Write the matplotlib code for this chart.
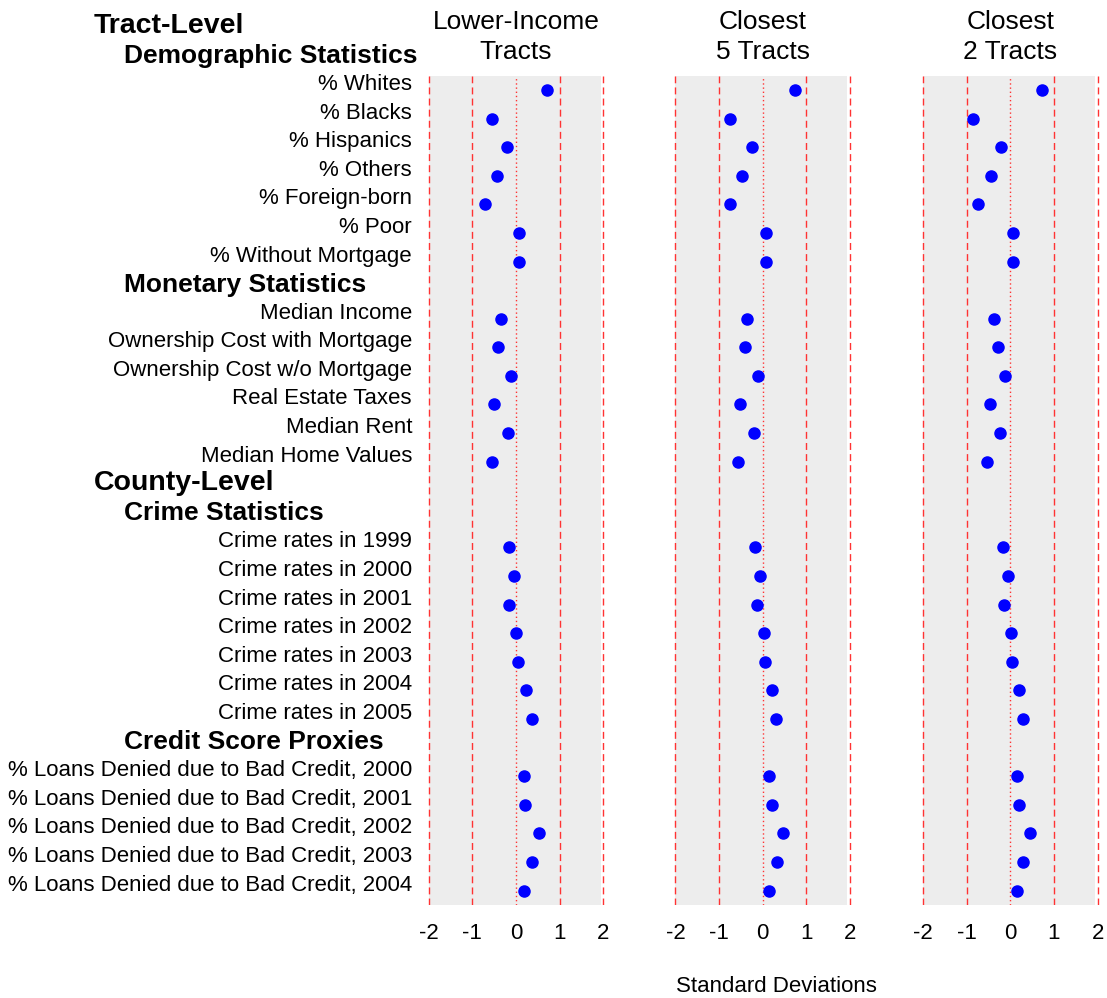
import matplotlib
matplotlib.use("Agg")
import matplotlib.pyplot as plt
import matplotlib.transforms as mtransforms
import numpy as np

plt.rcParams['font.family'] = ['Liberation Sans', 'DejaVu Sans']

# row labels, top to bottom; kind: L = level header, G = group header, V = variable
row_labels = [
    ("Tract-Level", "L"),
    ("Demographic Statistics", "G"),
    ("% Whites", "V"), ("% Blacks", "V"), ("% Hispanics", "V"), ("% Others", "V"),
    ("% Foreign-born", "V"), ("% Poor", "V"), ("% Without Mortgage", "V"),
    ("Monetary Statistics", "G"),
    ("Median Income", "V"), ("Ownership Cost with Mortgage", "V"),
    ("Ownership Cost w/o Mortgage", "V"), ("Real Estate Taxes", "V"),
    ("Median Rent", "V"), ("Median Home Values", "V"),
    ("County-Level", "L"),
    ("Crime Statistics", "G"),
    ("Crime rates in 1999", "V"), ("Crime rates in 2000", "V"), ("Crime rates in 2001", "V"),
    ("Crime rates in 2002", "V"), ("Crime rates in 2003", "V"), ("Crime rates in 2004", "V"),
    ("Crime rates in 2005", "V"),
    ("Credit Score Proxies", "G"),
    ("% Loans Denied due to Bad Credit, 2000", "V"),
    ("% Loans Denied due to Bad Credit, 2001", "V"),
    ("% Loans Denied due to Bad Credit, 2002", "V"),
    ("% Loans Denied due to Bad Credit, 2003", "V"),
    ("% Loans Denied due to Bad Credit, 2004", "V"),
]

panel_titles = ["Lower-Income\nTracts", "Closest\n5 Tracts", "Closest\n2 Tracts"]

# standardized differences, one value per variable row
lower_income = [0.72, -0.55, -0.21, -0.44, -0.70, 0.08, 0.08,
                -0.34, -0.42, -0.11, -0.51, -0.18, -0.54,
                -0.17, -0.05, -0.16, 0.01, 0.05, 0.23, 0.37,
                0.18, 0.21, 0.52, 0.37, 0.18]
closest5 = [0.74, -0.76, -0.24, -0.48, -0.75, 0.07, 0.07,
            -0.37, -0.40, -0.12, -0.53, -0.21, -0.56,
            -0.17, -0.06, -0.14, 0.03, 0.05, 0.21, 0.30,
            0.15, 0.21, 0.47, 0.33, 0.15]
closest2 = [0.72, -0.85, -0.21, -0.44, -0.75, 0.07, 0.07,
            -0.37, -0.28, -0.11, -0.46, -0.23, -0.54,
            -0.17, -0.05, -0.14, 0.02, 0.05, 0.21, 0.28,
            0.15, 0.21, 0.46, 0.30, 0.15]

xticks = [-2, -1, 0, 1, 2]

W, H = 1107, 998
fig = plt.figure(figsize=(W / 100, H / 100), dpi=100)

# row positions: first row (Tract-Level) = -2, variables start at 0
row_pos = np.arange(len(row_labels)) - 2
var_rows = [p for p, (t, k) in zip(row_pos, row_labels) if k == "V"]

lefts = [426.5, 673.3, 920.8]
axes = []
for i, (vals, title) in enumerate(zip([lower_income, closest5, closest2], panel_titles)):
    ax = fig.add_axes([lefts[i] / W, 93.2 / H, 179 / W, 829.1 / H])
    ax.set_xlim(-2.05, 2.05)
    ax.set_ylim(28.5, -0.5)
    ax.axvspan(-2, 1.94, color='#ededed', zorder=0, lw=0)
    for x in xticks:
        ls = (0, (1, 2)) if x == 0 else (0, (5, 3))
        ax.axvline(x, color='#ff3333', lw=1, linestyle=ls, zorder=1)
    ax.plot(vals, var_rows, 'o', color='blue', markersize=8, zorder=3)
    ax.set_xticks(xticks)
    ax.set_xticklabels([str(x) for x in xticks], fontsize=16)
    ax.set_yticks([])
    ax.tick_params(axis='x', length=0, pad=13)
    for s in ax.spines.values():
        s.set_visible(False)
    ax.set_facecolor('white')
    # panel title above the plotting area (baseline of second line)
    ax.text(0, -1.1, title, ha='center', va='baseline', fontsize=19,
            linespacing=1.3, clip_on=False)
    axes.append(ax)

# row labels drawn against the first panel's rows
trans = mtransforms.blended_transform_factory(fig.transFigure, axes[0].transData)
for p, (t, k) in zip(row_pos, row_labels):
    if k == "L":
        axes[0].text(94 / W, p, t, transform=trans, ha='left', va='baseline',
                     fontsize=20.5, fontweight='bold', clip_on=False)
    elif k == "G":
        axes[0].text(124 / W, p + 0.05, t, transform=trans, ha='left', va='baseline',
                     fontsize=19, fontweight='bold', clip_on=False)
    else:
        axes[0].text(412 / W, p, t, transform=trans, ha='right', va='baseline',
                     fontsize=16, clip_on=False)

fig.text(776.5 / W, 1 - 986 / H, "Standard Deviations", ha='center', va='center', fontsize=16)

fig.savefig("out.png", dpi=100)
